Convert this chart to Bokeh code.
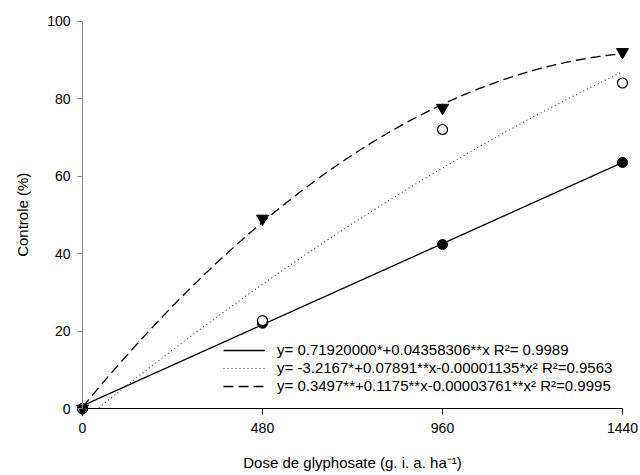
import numpy as np
from bokeh.plotting import figure
from bokeh.models import Range1d, Legend, LegendItem, FixedTicker, Label
from bokeh.embed import file_html
from bokeh.resources import INLINE

# ---- data ----
doses = [0, 480, 960, 1440]
ctrl_solid = [0.0, 22.0, 42.3, 63.5]    # filled circles
ctrl_dotted = [0.0, 22.7, 72.0, 84.0]   # open circles
ctrl_dashed = [0.0, 49.0, 77.6, 92.0]   # inverted triangles

coef_solid = [0.71920000, 0.04358306, 0.0]
coef_dotted = [-3.2167, 0.07891, -0.00001135]
coef_dashed = [0.3497, 0.1175, -0.00003761]

legend_labels = [
    "y= 0.71920000*+0.04358306**x R²= 0.9989",
    "y= -3.2167*+0.07891**x-0.00001135*x² R²=0.9563",
    "y= 0.3497**+0.1175**x-0.00003761**x² R²=0.9995",
]
x_ticks = [0, 480, 960, 1440]
y_ticks = [0, 20, 40, 60, 80, 100]
x_title = "Dose de glyphosate (g. i. a. ha⁻¹)"
y_title = "Controle (%)"

FONT = "Liberation Sans"
W, H = 640, 475

# frame covers the whole canvas; axes are drawn at data zero
X0PX, XPPU = 82.0, 0.375
Y0PX, YPPU = 408.0, 3.875
x_start = (0 - X0PX) / XPPU
x_end = (W - X0PX) / XPPU
y_start = -(H - Y0PX) / YPPU
y_end = (Y0PX - 0) / YPPU

def px_to_x(px):
    return (px - X0PX) / XPPU

def px_to_y(py):
    return (Y0PX - py) / YPPU

p = figure(width=W, height=H,
           x_range=Range1d(x_start, x_end), y_range=Range1d(y_start, y_end),
           output_backend="svg", toolbar_location=None,
           min_border_left=0, min_border_right=0,
           min_border_top=0, min_border_bottom=0)
p.outline_line_color = None
p.xgrid.visible = False
p.ygrid.visible = False
p.background_fill_color = "white"
p.border_fill_color = "white"

xa = p.xaxis[0]
xa.fixed_location = 0
xa.bounds = (0, 1440)
xa.ticker = FixedTicker(ticks=x_ticks)
xa.minor_tick_line_color = None
xa.major_tick_in = 0
xa.major_tick_out = 6
xa.axis_line_color = "black"
xa.major_tick_line_color = "black"
xa.major_label_standoff = 8
xa.major_label_text_font = FONT
xa.major_label_text_font_size = "14px"
xa.major_label_text_color = "black"

ya = p.yaxis[0]
ya.fixed_location = 0
ya.bounds = (0, 100)
ya.ticker = FixedTicker(ticks=y_ticks)
ya.minor_tick_line_color = None
ya.major_tick_in = 0
ya.major_tick_out = 5
ya.axis_line_color = "#8a8a8a"
ya.major_tick_line_color = "#8a8a8a"
ya.major_label_standoff = 7
ya.major_label_text_font = FONT
ya.major_label_text_font_size = "14px"
ya.major_label_text_color = "black"

p.add_layout(Label(x=720, y=px_to_y(462), text=x_title,
                   text_font=FONT, text_font_size="15px", text_color="black",
                   text_align="center", text_baseline="middle"))
p.add_layout(Label(x=px_to_x(22), y=50, text=y_title, angle=np.pi / 2,
                   text_font=FONT, text_font_size="15px", text_color="black",
                   text_align="center", text_baseline="middle"))

# fitted curves from legend coefficients
xs = np.linspace(0, 1440, 400)

def curve(c):
    y = c[0] + c[1] * xs + c[2] * xs ** 2
    m = y >= 0
    return xs[m], y[m]

cx, cy = curve(coef_solid)
r_solid = p.line(cx, cy, line_color="black", line_width=1.3)
cx, cy = curve(coef_dotted)
r_dot = p.line(cx, cy, line_color="#333333", line_width=1.1, line_dash="1 3")
cx, cy = curve(coef_dashed)
r_dash = p.line(cx, cy, line_color="black", line_width=1.3, line_dash="10 5")

p.scatter(doses, ctrl_solid, marker="circle", size=10,
          fill_color="black", line_color="black")
p.scatter(doses, ctrl_dotted, marker="circle", size=10,
          fill_color="white", line_color="black", line_width=1.2)
p.scatter(doses, ctrl_dashed, marker="inverted_triangle", size=12,
          fill_color="black", line_color="black")

legend = Legend(items=[LegendItem(label=legend_labels[0], renderers=[r_solid]),
                       LegendItem(label=legend_labels[1], renderers=[r_dot]),
                       LegendItem(label=legend_labels[2], renderers=[r_dash])],
                location=(223, H - 394))
legend.background_fill_alpha = 0
legend.border_line_color = None
legend.padding = 0
legend.margin = 0
legend.spacing = 1
legend.glyph_width = 42
legend.glyph_height = 16
legend.label_height = 16
legend.label_standoff = 12
legend.label_text_font = FONT
legend.label_text_font_size = "15px"
legend.label_text_color = "black"
p.add_layout(legend)

open("out.html", "w").write(file_html(p, INLINE))
